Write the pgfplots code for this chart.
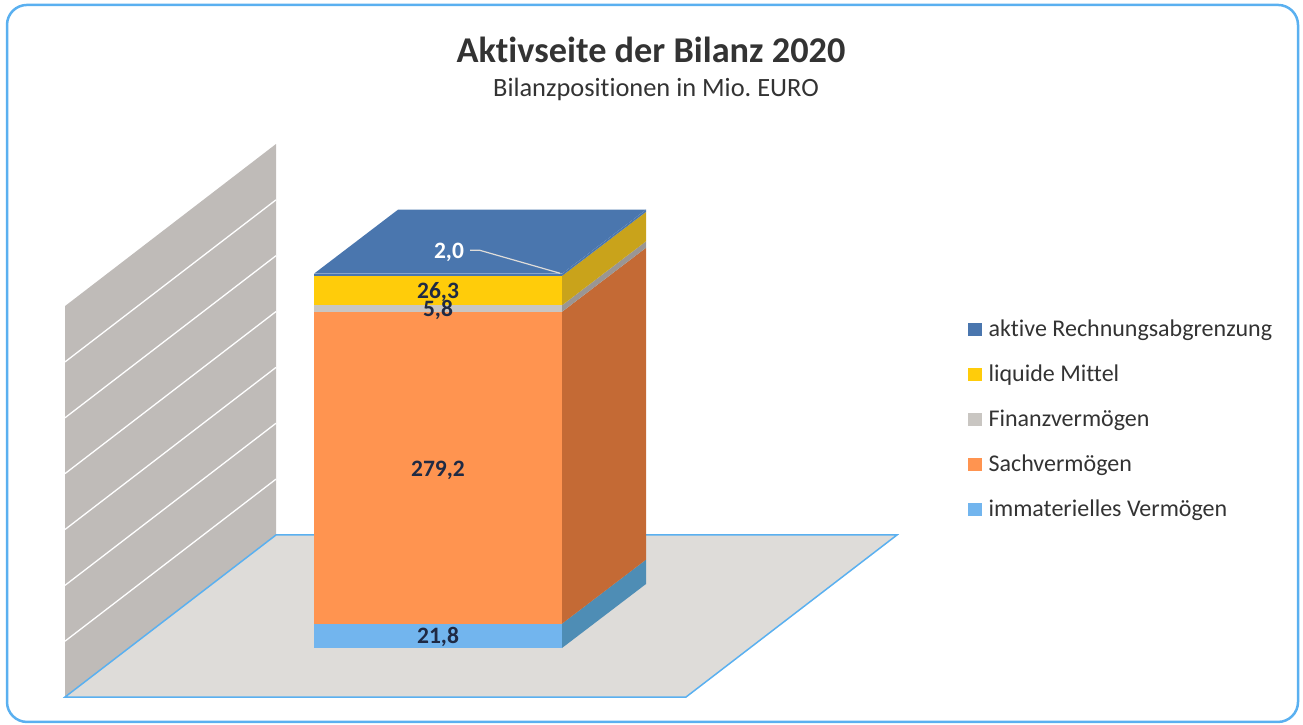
\documentclass[border=0pt]{standalone}
\usepackage{pgfplots}
\pgfplotsset{compat=1.18}
\usepackage{fontspec}
\setmainfont{Carlito}[Ligatures={TeX,NoCommon}]
\definecolor{frame}{HTML}{5AB0F0}
\definecolor{wall}{HTML}{BFBBB8}
\definecolor{floorc}{HTML}{DEDCD9}
\definecolor{cA}{HTML}{4A76AE}
\definecolor{cL}{HTML}{FFCC0A}
\definecolor{cF}{HTML}{C9C6C2}
\definecolor{cS}{HTML}{FF9450}
\definecolor{cI}{HTML}{72B5EE}
\definecolor{sL}{HTML}{C9A31B}
\definecolor{sF}{HTML}{9A9694}
\definecolor{sS}{HTML}{C46A35}
\definecolor{sI}{HTML}{4E8DB5}
\definecolor{lab}{HTML}{1F2A44}
\definecolor{txt}{HTML}{333333}
\begin{document}
\begin{tikzpicture}
\useasboundingbox (0,0) rectangle (1303pt,725pt);
\begin{axis}[
  at={(0,0)}, anchor=south west,
  scale only axis, width=1303pt, height=725pt,
  xmin=0, xmax=1303, ymin=-68.93, ymax=580.13,
  hide axis,
  legend cell align=left,
  legend style={at={(axis cs:968,295.7)}, anchor=north west, draw=none, fill=none,
    font=\fontsize{24}{28}\selectfont\color{txt}, row sep=22.9pt, inner sep=0pt},
  legend image code/.code={\fill[#1] (0pt,-6pt) rectangle (13pt,6pt);},
]
% outer frame
\addplot[forget plot, frame, line width=2.5pt, rounded corners=20pt] coordinates {(600,575.7)(1298,575.7)(1298,-66.2)(7,-66.2)(7,575.7)(600,575.7)(610,575.7)};
% wall and grid lines every 50
\addplot[forget plot, draw=none, fill=wall] coordinates {(65,-43.9)(276,101.2)(276,451.2)(65,306.1)} -- cycle;
\addplot[forget plot, white, line width=1.3pt] coordinates {(65,6.1)(276,151.2)};
\addplot[forget plot, white, line width=1.3pt] coordinates {(65,56.1)(276,201.2)};
\addplot[forget plot, white, line width=1.3pt] coordinates {(65,106.1)(276,251.2)};
\addplot[forget plot, white, line width=1.3pt] coordinates {(65,156.1)(276,301.2)};
\addplot[forget plot, white, line width=1.3pt] coordinates {(65,206.1)(276,351.2)};
\addplot[forget plot, white, line width=1.3pt] coordinates {(65,256.1)(276,401.2)};
% floor
\addplot[forget plot, draw=frame, line width=1.5pt, fill=floorc] coordinates {(65,-43.9)(276,101.2)(897,101.2)(686,-43.9)} -- cycle;
% front of the stack
\addplot[forget plot, draw=none, fill=cI] coordinates {(314,0)(562,0)(562,21.8)(314,21.8)} -- cycle;
\addplot[forget plot, draw=none, fill=cS] coordinates {(314,21.8)(562,21.8)(562,301.0)(314,301.0)} -- cycle;
\addplot[forget plot, draw=none, fill=cF] coordinates {(314,301.0)(562,301.0)(562,306.8)(314,306.8)} -- cycle;
\addplot[forget plot, draw=none, fill=cL] coordinates {(314,306.8)(562,306.8)(562,333.1)(314,333.1)} -- cycle;
\addplot[forget plot, draw=none, fill=cA] coordinates {(314,333.1)(562,333.1)(562,335.1)(314,335.1)} -- cycle;
% right side of the stack
\addplot[forget plot, draw=none, fill=sI] coordinates {(562,0)(646,57.3)(646,79.1)(562,21.8)} -- cycle;
\addplot[forget plot, draw=none, fill=sS] coordinates {(562,21.8)(646,79.1)(646,358.3)(562,301.0)} -- cycle;
\addplot[forget plot, draw=none, fill=sF] coordinates {(562,301.0)(646,358.3)(646,364.1)(562,306.8)} -- cycle;
\addplot[forget plot, draw=none, fill=sL] coordinates {(562,306.8)(646,364.1)(646,390.4)(562,333.1)} -- cycle;
\addplot[forget plot, draw=none, fill=cA] coordinates {(562,333.1)(646,390.4)(646,392.4)(562,335.1)} -- cycle;
% top
\addplot[forget plot, draw=none, fill=cA] coordinates {(314,335.1)(398,392.4)(646,392.4)(562,335.1)} -- cycle;
% leader line of the 2,0 label
\addplot[forget plot, floorc, line width=1.2pt] coordinates {(470,356)(480,356)(560,335.5)};
% legend
\addlegendimage{cA}\addlegendentry{\hspace*{5pt}aktive Rechnungsabgrenzung}
\addlegendimage{cL}\addlegendentry{\hspace*{5pt}liquide Mittel}
\addlegendimage{cF}\addlegendentry{\hspace*{5pt}Finanzvermögen}
\addlegendimage{cS}\addlegendentry{\hspace*{5pt}Sachvermögen}
\addlegendimage{cI}\addlegendentry{\hspace*{5pt}immaterielles Vermögen}
% value labels
\node[font=\fontsize{23.5}{27}\bfseries\selectfont, lab] at (axis cs:438,9.5) {21,8};
\node[font=\fontsize{23.5}{27}\bfseries\selectfont, lab] at (axis cs:438,158.6) {279,2};
\node[font=\fontsize{23.5}{27}\bfseries\selectfont, lab] at (axis cs:438,302.5) {5,8};
\node[font=\fontsize{23.5}{27}\bfseries\selectfont, lab] at (axis cs:438,318.5) {26,3};
\node[font=\fontsize{23.5}{27}\bfseries\selectfont, white] at (axis cs:449,354) {2,0};
% titles
\node[font=\fontsize{36.3}{42}\bfseries\selectfont, txt] at (axis cs:651,535.5) {Aktivseite der Bilanz 2020};
\node[font=\fontsize{26.4}{31}\selectfont, txt] at (axis cs:656,499.7) {Bilanzpositionen in Mio.\ EURO};
\end{axis}
\end{tikzpicture}
\end{document}
